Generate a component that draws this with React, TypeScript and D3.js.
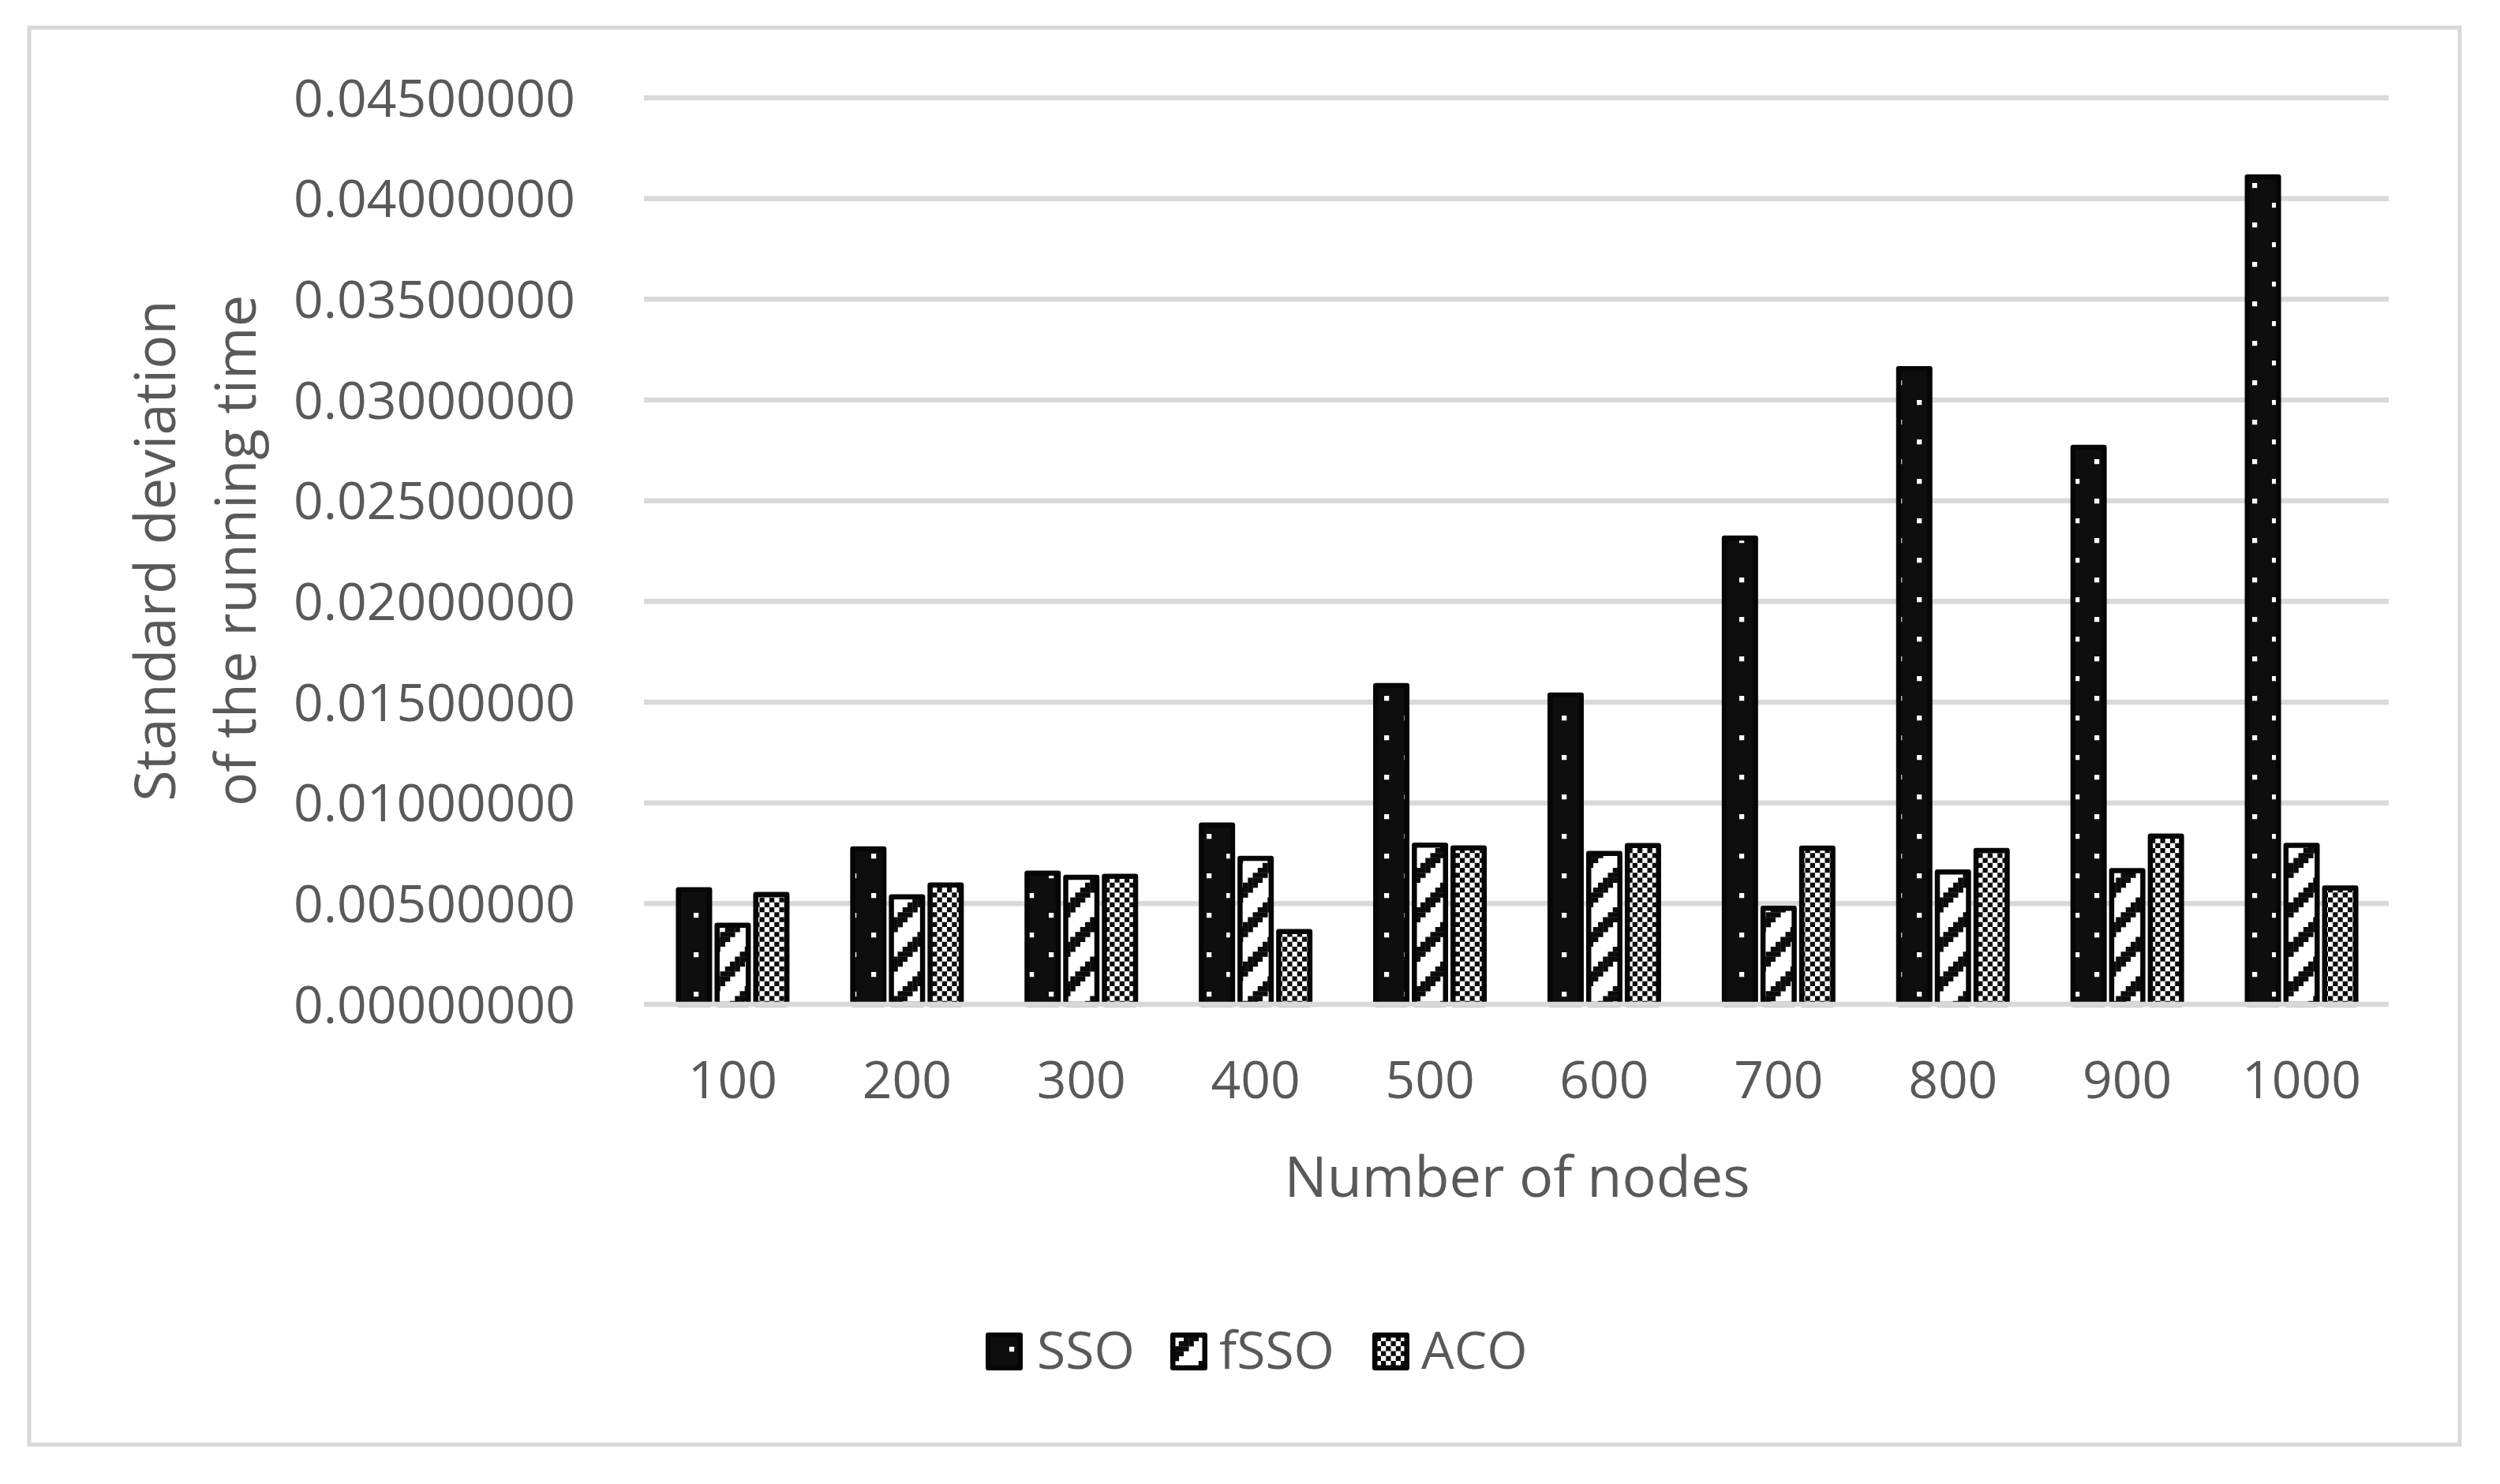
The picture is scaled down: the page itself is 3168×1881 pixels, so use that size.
import React from 'react';
import * as d3 from 'd3';

const categories = ['100', '200', '300', '400', '500', '600', '700', '800', '900', '1000'];
const seriesNames = ['SSO', 'fSSO', 'ACO'];
const ssoValues = [0.00569, 0.00772, 0.00651, 0.0089, 0.01582, 0.01535, 0.02315, 0.03156, 0.02765, 0.04107];
const fssoValues = [0.00393, 0.00534, 0.00631, 0.00725, 0.0079, 0.00749, 0.00477, 0.00657, 0.00664, 0.00789];
const acoValues = [0.00545, 0.00592, 0.00635, 0.00361, 0.00776, 0.00788, 0.00775, 0.00764, 0.00835, 0.00578];
const yTicks = [0, 0.005, 0.01, 0.015, 0.02, 0.025, 0.03, 0.035, 0.04, 0.045];
const xTitle = 'Number of nodes';
const yTitleLines = ['Standard deviation', 'of the running time'];

const FONT = '"Open Sans", "Noto Sans", sans-serif';
const TEXT = '#595959';
const GRID = '#d9d9d9';
const INK = '#0b0b0b';

export default function App() {
  const W = 3168;
  const H = 1881;
  const plotLeft = 818;
  const plotRight = 3027;
  const plotTop = 124;
  const plotBottom = 1273;
  const barOuter = 46;
  const pitch = 49;
  const sw = 6.5;

  const x0 = d3.scaleBand<string>().domain(categories).range([plotLeft, plotRight]).padding(0);
  const x1 = d3.scaleBand<string>().domain(seriesNames).range([0, pitch * 3]).padding(0);
  const y = d3.scaleLinear().domain([0, 0.045]).range([plotBottom, plotTop]);
  const fmt = d3.format('.8f');

  const seriesData = [ssoValues, fssoValues, acoValues];
  const fills = ['url(#patDots)', 'url(#patStripe)', 'url(#patCheck)'];

  const cell = 6.25;
  const stripeCells: JSX.Element[] = [];
  for (let r = 0; r < 8; r++) {
    for (let k = 0; k < 3; k++) {
      const c = (7 - r + k + 8) % 8;
      stripeCells.push(
        <rect key={`s${r}-${k}`} x={c * cell} y={r * cell} width={cell + 0.3} height={cell + 0.3} fill={INK} />
      );
    }
  }
  const checkCells: JSX.Element[] = [];
  for (let r = 0; r < 8; r++) {
    for (let c = 0; c < 8; c++) {
      if ((r + c) % 2 === 0) {
        checkCells.push(
          <rect key={`c${r}-${c}`} x={c * cell} y={r * cell} width={cell} height={cell} fill={INK} />
        );
      }
    }
  }

  const groupSpan = pitch * 2 + barOuter;

  const legendItems = [
    { name: 'SSO', mx: 1249, tx: 1314 },
    { name: 'fSSO', mx: 1483, tx: 1545 },
    { name: 'ACO', mx: 1739, tx: 1801 },
  ];

  return (
    <div style={{ position: 'absolute', left: 0, top: 0 }}>
      <svg width={W} height={H} viewBox={`0 0 ${W} ${H}`} style={{ display: 'block' }}>
        <defs>
          <pattern id="patDots" patternUnits="userSpaceOnUse" x={4} y={7} width={50} height={50}>
            <rect x={0} y={0} width={50} height={50} fill="#0e0e0e" />
            <rect x={0} y={25} width={cell} height={cell} fill="#ffffff" />
            <rect x={25} y={0} width={cell} height={cell} fill="#ffffff" />
          </pattern>
          <pattern id="patStripe" patternUnits="userSpaceOnUse" x={0} y={0} width={50} height={50}>
            <rect x={0} y={0} width={50} height={50} fill="#ffffff" />
            {stripeCells}
          </pattern>
          <pattern id="patCheck" patternUnits="userSpaceOnUse" x={0} y={0} width={12.5 * 4} height={12.5 * 4}>
            <rect x={0} y={0} width={50} height={50} fill="#ffffff" />
            {checkCells}
          </pattern>
        </defs>

        <rect x={0} y={0} width={W} height={H} fill="#ffffff" />
        <rect x={37} y={35} width={3080} height={1796} fill="#ffffff" stroke={GRID} strokeWidth={5} />

        {/* gridlines */}
        {yTicks.filter((t) => t > 0).map((t) => (
          <line key={`g${t}`} x1={816} x2={plotRight} y1={y(t)} y2={y(t)} stroke={GRID} strokeWidth={sw} />
        ))}

        {/* y tick labels */}
        {yTicks.map((t) => (
          <text
            key={`yt${t}`}
            x={729}
            y={y(t)}
            dy="0.357em"
            textAnchor="end"
            fontFamily={FONT}
            fontSize={66}
            fill={TEXT}
          >
            {fmt(t)}
          </text>
        ))}

        {/* bars */}
        {categories.map((cat, i) => {
          const center = (x0(cat) as number) + x0.bandwidth() / 2;
          const start = center - groupSpan / 2;
          return (
            <g key={`grp${cat}`}>
              {seriesNames.map((s, j) => {
                const v = seriesData[j][i];
                const ox = start + (x1(s) as number);
                return (
                  <rect
                    key={`b${cat}-${s}`}
                    x={ox + sw / 2}
                    y={y(v)}
                    width={barOuter - sw}
                    height={plotBottom - y(v)}
                    fill={fills[j]}
                    stroke="#060606"
                    strokeWidth={sw}
                    strokeLinejoin="round"
                  />
                );
              })}
            </g>
          );
        })}

        {/* zero axis line */}
        <line x1={816} x2={plotRight} y1={y(0)} y2={y(0)} stroke={GRID} strokeWidth={sw} />

        {/* x tick labels */}
        {categories.map((cat) => (
          <text
            key={`xt${cat}`}
            x={(x0(cat) as number) + x0.bandwidth() / 2}
            y={1392}
            textAnchor="middle"
            fontFamily={FONT}
            fontSize={66}
            fill={TEXT}
          >
            {cat}
          </text>
        ))}

        {/* x title */}
        <text
          x={(plotLeft + plotRight) / 2}
          y={1517}
          textAnchor="middle"
          fontFamily={FONT}
          fontSize={72}
          fill={TEXT}
        >
          {xTitle}
        </text>

        {/* y title */}
        {yTitleLines.map((line, i) => (
          <text
            key={`ytl${i}`}
            transform={`translate(${222 + i * 102}, ${698}) rotate(-90)`}
            textAnchor="middle"
            fontFamily={FONT}
            fontSize={72}
            fill={TEXT}
          >
            {line}
          </text>
        ))}

        {/* legend */}
        {legendItems.map((it, j) => (
          <g key={`lg${it.name}`}>
            <rect
              x={it.mx + sw / 2}
              y={1689 + sw / 2}
              width={47 - sw}
              height={48 - sw}
              fill={fills[j]}
              stroke="#060606"
              strokeWidth={sw}
              strokeLinejoin="round"
            />
            <text x={it.tx} y={1735} fontFamily={FONT} fontSize={66} fill={TEXT}>
              {it.name}
            </text>
          </g>
        ))}
      </svg>
    </div>
  );
}
